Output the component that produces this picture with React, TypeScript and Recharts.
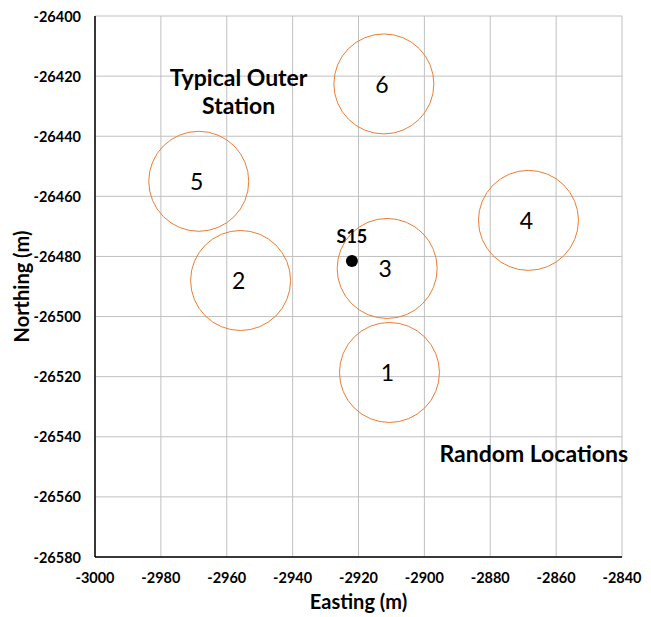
import React from "react";
import {
  ScatterChart,
  Scatter,
  XAxis,
  YAxis,
  CartesianGrid,
  ReferenceDot,
} from "recharts";

const locationIds = ["1", "2", "3", "4", "5", "6"];
const locationEasting = [-2910.6, -2955.8, -2911.3, -2868.4, -2968.5, -2912.3];
const locationNorthing = [-26518.6, -26488.0, -26484.0, -26468.0, -26455.0, -26422.6];

const stationName = "S15";
const stationEasting = [-2922.0];
const stationNorthing = [-26481.5];

const xTicks = [-3000, -2980, -2960, -2940, -2920, -2900, -2880, -2860, -2840];
const yTicks = [-26400, -26420, -26440, -26460, -26480, -26500, -26520, -26540, -26560, -26580];

const outerLabel = ["Typical Outer", "Station"];
const outerLabelAt = { x: -2956.4, y: -26425.5 };
const randomLabel = "Random Locations";
const randomLabelAt = { x: -2866.8, y: -26545.4 };

const locations = locationIds.map((id, i) => ({
  id,
  x: locationEasting[i],
  y: locationNorthing[i],
}));
const station = stationEasting.map((x, i) => ({ x, y: stationNorthing[i], id: stationName }));

const FONT = "Lato, 'Liberation Sans', sans-serif";
const ORANGE = "#ED7D31";

const CircleShape = (props: any) => {
  const { cx, cy, payload } = props;
  return (
    <g>
      <circle cx={cx} cy={cy} r={50} fill="none" stroke={ORANGE} strokeWidth={1} />
      <text
        x={cx - 2}
        y={cy}
        textAnchor="middle"
        dominantBaseline="central"
        fontFamily={FONT}
        fontSize={23}
        fill="#000"
      >
        {payload.id}
      </text>
    </g>
  );
};

const StationShape = (props: any) => {
  const { cx, cy, payload } = props;
  return (
    <g>
      <circle cx={cx} cy={cy} r={6} fill="#000" />
      <text
        x={cx}
        y={cy - 25}
        textAnchor="middle"
        dominantBaseline="central"
        fontFamily={FONT}
        fontWeight="bold"
        fontSize={18}
        fill="#000"
      >
        {payload.id}
      </text>
    </g>
  );
};

const OuterLabelShape = (props: any) => {
  const { cx, cy } = props;
  return (
    <text x={cx} y={cy} textAnchor="middle" fontFamily={FONT} fontWeight="bold" fontSize={23} fill="#000">
      <tspan x={cx} y={cy - 16} dominantBaseline="central">
        {outerLabel[0]}
      </tspan>
      <tspan x={cx} y={cy + 12} dominantBaseline="central">
        {outerLabel[1]}
      </tspan>
    </text>
  );
};

const RandomLabelShape = (props: any) => {
  const { cx, cy } = props;
  return (
    <text
      x={cx}
      y={cy}
      textAnchor="middle"
      dominantBaseline="central"
      fontFamily={FONT}
      fontWeight="bold"
      fontSize={23}
      fill="#000"
    >
      {randomLabel}
    </text>
  );
};

const XTick = (props: any) => {
  const { x, y, payload } = props;
  return (
    <text
      x={x}
      y={y + 20}
      textAnchor="middle"
      dominantBaseline="central"
      fontFamily={FONT}
      fontWeight="bold"
      fontSize={14.5}
      fill="#000"
    >
      {payload.value}
    </text>
  );
};

const YTick = (props: any) => {
  const { x, y, payload } = props;
  return (
    <text
      x={x - 14}
      y={y}
      textAnchor="end"
      dominantBaseline="central"
      fontFamily={FONT}
      fontWeight="bold"
      fontSize={14.5}
      fill="#000"
    >
      {payload.value}
    </text>
  );
};

export default function App() {
  return (
    <div style={{ position: "absolute", left: 0, top: 0, width: 651, height: 617, background: "#fff" }}>
      <ScatterChart width={651} height={617} margin={{ top: 16, right: 29, left: 0, bottom: 0 }}>
        <CartesianGrid stroke="#c0c0c0" strokeWidth={1} />
        <XAxis
          type="number"
          dataKey="x"
          domain={[-3000, -2840]}
          ticks={xTicks}
          interval={0}
          height={60}
          tickLine={false}
          tickSize={0}
          tickMargin={0}
          axisLine={{ stroke: "#000", strokeWidth: 1.5 }}
          tick={XTick}
          allowDataOverflow
          label={{
            value: "Easting (m)",
            position: "insideBottom",
            offset: 8,
            style: { fontFamily: FONT, fontWeight: "bold", fontSize: 20, fill: "#000" },
          }}
        />
        <YAxis
          type="number"
          dataKey="y"
          domain={[-26580, -26400]}
          ticks={yTicks}
          interval={0}
          width={95}
          tickLine={false}
          tickSize={0}
          tickMargin={0}
          axisLine={{ stroke: "#000", strokeWidth: 1.5 }}
          tick={YTick}
          allowDataOverflow
          label={{
            value: "Northing (m)",
            angle: -90,
            position: "insideLeft",
            offset: 22,
            style: { fontFamily: FONT, fontWeight: "bold", fontSize: 20, fill: "#000", textAnchor: "middle" },
          }}
        />
        <Scatter data={locations} shape={CircleShape} isAnimationActive={false} />
        <Scatter data={station} shape={StationShape} isAnimationActive={false} />
        <ReferenceDot x={outerLabelAt.x} y={outerLabelAt.y} shape={OuterLabelShape} ifOverflow="visible" />
        <ReferenceDot x={randomLabelAt.x} y={randomLabelAt.y} shape={RandomLabelShape} ifOverflow="visible" />
      </ScatterChart>
    </div>
  );
}
